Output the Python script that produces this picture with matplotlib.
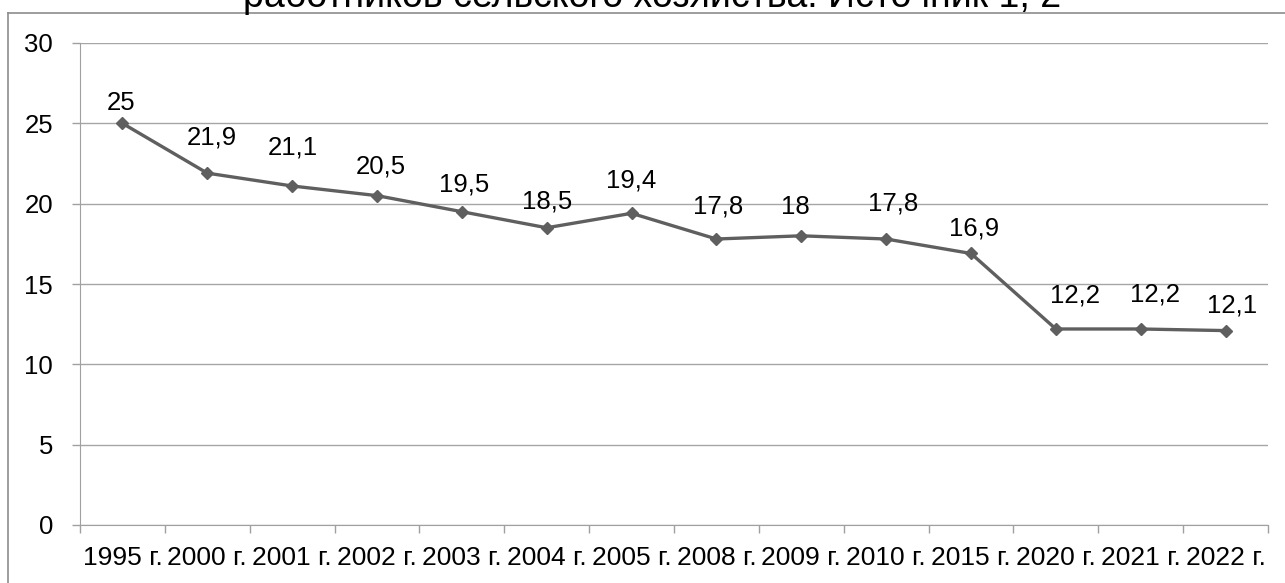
import numpy as np
import matplotlib.pyplot as plt
from matplotlib.lines import Line2D

plt.rcParams['font.family'] = ['Liberation Sans', 'DejaVu Sans']

# годы и значения ряда
years = ['1995 г.', '2000 г.', '2001 г.', '2002 г.', '2003 г.', '2004 г.', '2005 г.',
         '2008 г.', '2009 г.', '2010 г.', '2015 г.', '2020 г.', '2021 г.', '2022 г.']
values = [25, 21.9, 21.1, 20.5, 19.5, 18.5, 19.4, 17.8, 18, 17.8, 16.9, 12.2, 12.2, 12.1]
title = 'работников сельского хозяйства. Источник 1, 2'

# сдвиги подписей данных (в пикселях) относительно точки
label_dx = [-1, 5, 1, 4, 2, 0, 0, 2, -6, 7, 3, 19, 14, 6]
label_dy = [20, 36, 38, 29, 27, 26, 33, 33, 29, 36, 25, 33, 34, 25]

W, H = 1285, 583
fig = plt.figure(figsize=(W / 100, H / 100), dpi=100)
ax = fig.add_axes([80 / W, 58 / H, 1188 / W, 482 / H])

x = np.arange(len(years)) + 0.5
ax.plot(x, values, color='#5f5f5f', lw=2.4, marker='D', ms=5.8, zorder=3)

pt = 72 / 100
for xi, v, dx, dy in zip(x, values, label_dx, label_dy):
    s = ('%g' % v).replace('.', ',')
    ax.annotate(s, (xi, v), xytext=(dx * pt, dy * pt), textcoords='offset points',
                ha='center', va='center', fontsize=18.5, color='black')

ax.set_xlim(0, len(years))
ax.set_ylim(0, 30)
ax.set_yticks(np.arange(0, 31, 5))
ax.set_xticks(np.arange(len(years) + 1), minor=False)
ax.set_xticklabels([])
ax.set_xticks(x, minor=True)
ax.set_xticklabels(years, minor=True)
ax.tick_params(axis='x', which='major', length=5.8, color='#a0a0a0', width=1)
ax.tick_params(axis='x', which='minor', length=0, pad=15, labelsize=19)
ax.tick_params(axis='y', length=5.8, color='#a0a0a0', width=1, pad=13.5, labelsize=18.5)

ax.grid(axis='y', color='#a6a6a6', lw=1)
ax.set_axisbelow(True)
for side in ['top', 'right']:
    ax.spines[side].set_visible(False)
ax.spines['left'].set_color('#a0a0a0')
ax.spines['bottom'].set_color('#a0a0a0')

# рамка области диаграммы и заголовок, уходящий за верхний край
fig.add_artist(Line2D([8 / W, 8 / W], [0, 1 - 13 / H], color='#8c8c8c', lw=1.2))
fig.add_artist(Line2D([8 / W, 1], [1 - 13 / H, 1 - 13 / H], color='#8c8c8c', lw=1.2))
fig.text(652 / W, 1 - 7 / H, title, ha='center', va='baseline', fontsize=27)

fig.savefig('out.png', dpi=100)
